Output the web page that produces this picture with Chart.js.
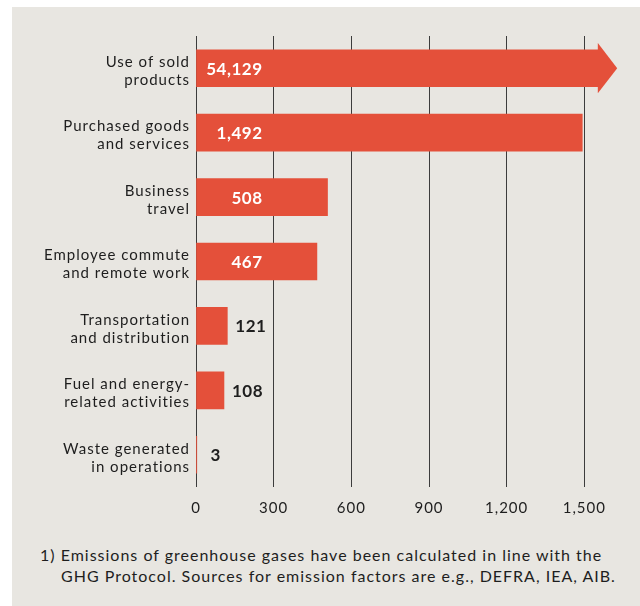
<!DOCTYPE html>
<html>
<head>
<meta charset="utf-8">
<script src="https://cdn.jsdelivr.net/npm/chart.js@4"></script>
<style>
  body { margin: 0; background: #fff; width: 640px; height: 606px; overflow: hidden; position: relative; }
  #panel { position: absolute; left: 12px; top: 7px; width: 628px; height: 599px; background: #e8e6e1; }
  #myChart { position: absolute; left: 0; top: 0; }
  #note { position: absolute; left: 28px; top: 537px; font: 16px Lato; letter-spacing: 1px; color: #1e1e1e; line-height: 21px; }
  #note .l2 { padding-left: 21px; }
</style>
</head>
<body>
<div id="panel">
  <canvas id="myChart" width="628" height="530"></canvas>
  <div id="note">
    <div>1) Emissions of greenhouse gases have been calculated in line with the</div>
    <div class="l2">GHG Protocol. Sources for emission factors are e.g., DEFRA, IEA, AIB.</div>
  </div>
</div>
<script>
const categories = [
  ['Use of sold', 'products'],
  ['Purchased goods', 'and services'],
  ['Business', 'travel'],
  ['Employee commute', 'and remote work'],
  ['Transportation', 'and distribution'],
  ['Fuel and energy-', 'related activities'],
  ['Waste generated', 'in operations']
]
const values = [54129, 1492, 508, 467, 121, 108, 3]
const tickValues = [0, 300, 600, 900, 1200, 1500]
const axisMax = 1715
const barCap = 1556    // longer bars are cut here and end in an arrow
const arrowTip = 1627
const barColor = '#e4503a'
const textColor = '#1e1e1e'

const shown = values.map(v => Math.min(v, barCap))

// canvas state gets reset on resize, so set the tracking each time
const spacing = {
  id: 'spacing',
  beforeUpdate(chart) { chart.ctx.letterSpacing = '1px' },
  beforeDraw(chart) { chart.ctx.letterSpacing = '1px' }
}

const arrowAndLabels = {
  id: 'arrowAndLabels',
  afterDatasetsDraw(chart) {
    const ctx = chart.ctx
    const x = chart.scales.x
    const meta = chart.getDatasetMeta(0)
    ctx.save()
    ctx.letterSpacing = '0.5px'
    meta.data.forEach((bar, i) => {
      const v = values[i]
      if (v > barCap) {
        const base = x.getPixelForValue(barCap) - 1
        const tip = x.getPixelForValue(arrowTip)
        const half = bar.height * 0.68
        ctx.fillStyle = barColor
        ctx.beginPath()
        ctx.moveTo(base, bar.y - half)
        ctx.lineTo(tip, bar.y)
        ctx.lineTo(base, bar.y + half)
        ctx.closePath()
        ctx.fill()
      }
      ctx.font = 'bold 17px Lato'
      ctx.textBaseline = 'middle'
      const txt = v.toLocaleString('en-US')
      if (bar.x - bar.base > 75) {
        ctx.fillStyle = '#fff'
        ctx.textAlign = 'right'
        ctx.fillText(txt, bar.base + 66, bar.y + 1)
      } else {
        ctx.fillStyle = textColor
        ctx.textAlign = 'left'
        ctx.fillText(txt, Math.max(bar.x, bar.base + 6) + 8, bar.y + 1)
      }
    })
    ctx.restore()
  }
}

const ctx = document.getElementById('myChart')
new Chart(ctx, {
  type: 'bar',
  data: {
    labels: categories,
    datasets: [{
      data: shown,
      backgroundColor: barColor,
      barThickness: 37,
      borderWidth: 0
    }]
  },
  options: {
    indexAxis: 'y',
    responsive: false,
    animation: false,
    layout: { padding: { top: 29, left: 0, right: 0, bottom: 0 } },
    plugins: { legend: { display: false }, tooltip: { enabled: false } },
    scales: {
      x: {
        min: 0,
        max: axisMax,
        afterBuildTicks: s => { s.ticks = tickValues.map(v => ({ value: v })) },
        afterFit: s => { s.height = 50 },
        grid: { color: '#3c3c3c', lineWidth: 1, drawTicks: false },
        border: { display: false },
        ticks: {
          padding: 12,
          color: textColor,
          font: { family: 'Lato', size: 15 },
          callback: v => v.toLocaleString('en-US')
        }
      },
      y: {
        afterFit: s => { s.width = 184 },
        grid: { display: false, drawTicks: false },
        border: { display: false },
        ticks: {
          padding: 6,
          labelOffset: 3,
          color: textColor,
          font: { family: 'Lato', size: 15, lineHeight: 1.2 }
        }
      }
    }
  },
  plugins: [spacing, arrowAndLabels]
})
</script>
</body>
</html>
